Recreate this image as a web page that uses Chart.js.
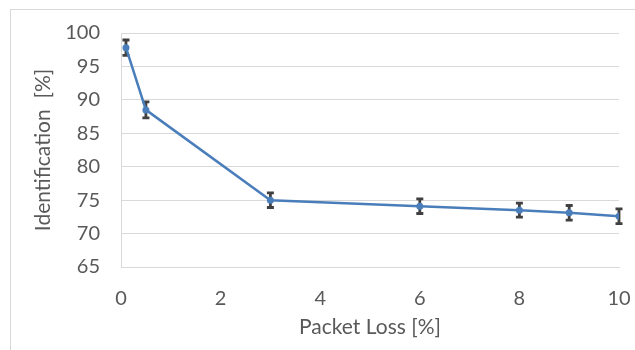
<!DOCTYPE html>
<html>
<head>
<meta charset="utf-8">
<script src="https://cdn.jsdelivr.net/npm/chart.js@4.4.1/dist/chart.umd.min.js"></script>
<style>
  html, body { margin: 0; padding: 0; background: #fff; overflow: hidden; }
  #wrap { position: relative; width: 635px; height: 350px; overflow: hidden; }
  #frame { position: absolute; left: 10px; top: 9px; width: 700px; height: 400px; border: 1px solid #d9d9d9; }
  #myChart { position: absolute; left: 0; top: 0; }
</style>
</head>
<body>
<div id="wrap">
  <div id="frame"></div>
  <canvas id="myChart" width="635" height="350"></canvas>
</div>
<script>
var packetLoss = [0.1, 0.5, 3, 6, 8, 9, 10]
var identification = [97.8, 88.5, 75.0, 74.1, 73.5, 73.1, 72.6]
var errors = [1.15, 1.2, 1.1, 1.1, 1.05, 1.1, 1.1]

var points = []
for (var i = 0; i < packetLoss.length; i++) {
  points.push({ x: packetLoss[i], y: identification[i] })
}

// simple error bar plugin, drawn under the line and markers
var errorBars = {
  id: 'errorBars',
  beforeDatasetsDraw: function (chart) {
    var ctx = chart.ctx
    var xs = chart.scales.x
    var ys = chart.scales.y
    ctx.save()
    ctx.strokeStyle = '#404040'
    ctx.lineWidth = 2.8
    for (var i = 0; i < packetLoss.length; i++) {
      var px = xs.getPixelForValue(packetLoss[i])
      var top = ys.getPixelForValue(identification[i] + errors[i])
      var bot = ys.getPixelForValue(identification[i] - errors[i])
      ctx.beginPath()
      ctx.moveTo(px, top)
      ctx.lineTo(px, bot)
      ctx.moveTo(px - 3.5, top)
      ctx.lineTo(px + 3.5, top)
      ctx.moveTo(px - 3.5, bot)
      ctx.lineTo(px + 3.5, bot)
      ctx.stroke()
    }
    ctx.restore()
  }
}

var ctx = document.getElementById('myChart').getContext('2d')
var chart = new Chart(ctx, {
  type: 'scatter',
  data: {
    datasets: [{
      label: 'Identification',
      data: points,
      showLine: true,
      borderColor: '#4a7ebb',
      backgroundColor: '#4a7ebb',
      borderWidth: 2.5,
      pointRadius: 3.5,
      pointHoverRadius: 3.5,
      pointBorderWidth: 0
    }]
  },
  options: {
    responsive: false,
    animation: false,
    events: [],
    layout: { padding: { top: 0, right: 16, bottom: 0, left: 0 } },
    plugins: {
      legend: { display: false },
      tooltip: { enabled: false }
    },
    scales: {
      x: {
        type: 'linear',
        min: 0,
        max: 10,
        afterFit: function (scale) {
          scale.height = 83
          scale.paddingLeft = 0
          scale.paddingRight = 0
        },
        ticks: { stepSize: 2, color: '#595959', padding: 20, font: { family: 'Lato', size: 20 } },
        grid: { display: false, drawTicks: false },
        border: { display: true, color: '#d9d9d9', width: 1 },
        title: {
          display: true,
          text: 'Packet Loss [%]',
          color: '#595959',
          font: { family: 'Lato', size: 21 },
          padding: { top: 0, bottom: 10 }
        }
      },
      y: {
        min: 65,
        max: 100,
        afterFit: function (scale) { scale.width = 121 },
        ticks: { stepSize: 5, color: '#595959', padding: 21, font: { family: 'Lato', size: 20 } },
        grid: { color: '#d9d9d9', lineWidth: 1, drawTicks: false },
        border: { display: true, color: '#d9d9d9', width: 1 },
        title: {
          display: true,
          text: 'Identification  [%]',
          color: '#595959',
          font: { family: 'Lato', size: 21 },
          padding: { top: 31, bottom: 0 }
        }
      }
    }
  },
  plugins: [errorBars]
})
</script>
</body>
</html>
